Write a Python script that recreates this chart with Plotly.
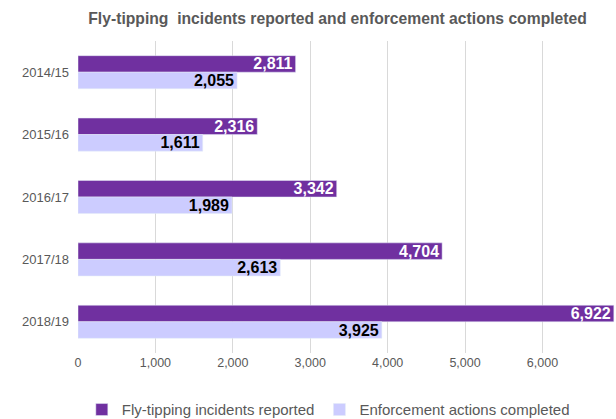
import plotly.graph_objects as go

years = ["2014/15", "2015/16", "2016/17", "2017/18", "2018/19"]
incidents = [2811, 2316, 3342, 4704, 6922]
enforcement = [2055, 1611, 1989, 2613, 3925]
tick_vals = [0, 1000, 2000, 3000, 4000, 5000, 6000]
tick_text = ["0", "1,000", "2,000", "3,000", "4,000", "5,000", "6,000"]

fig = go.Figure()
fig.add_trace(go.Bar(
    y=years, x=incidents, orientation="h", name="Fly-tipping incidents reported",
    marker=dict(color="#7030A0"),
    text=[f"{v:,}" for v in incidents], textposition="inside", insidetextanchor="end",
    constraintext="none",
    textfont=dict(color="white", size=16, family="Liberation Sans, Arial", weight="bold"),
))
fig.add_trace(go.Bar(
    y=years, x=enforcement, orientation="h", name="Enforcement actions completed",
    marker=dict(color="#CCCCFF"),
    text=[f"{v:,}" for v in enforcement], textposition="inside", insidetextanchor="end",
    constraintext="none",
    textfont=dict(color="black", size=16, family="Liberation Sans, Arial", weight="bold"),
))
fig.update_layout(
    width=616, height=419,
    margin=dict(l=78, r=0, t=41, b=66, autoexpand=False),
    paper_bgcolor="white", plot_bgcolor="white",
    barmode="group", bargap=0.47, bargroupgap=0,
    font=dict(family="Liberation Sans, Arial", color="#595959", size=12),
    title=dict(text="<b>Fly-tipping  incidents reported and enforcement actions completed</b>",
               x=0.548, xanchor="center", xref="container",
               y=0.957, yanchor="middle", yref="container",
               font=dict(size=15.7, color="#595959")),
    xaxis=dict(range=[0, 6950], tickvals=tick_vals, ticktext=tick_text,
               showgrid=True, gridcolor="#D9D9D9", gridwidth=1, zeroline=False,
               showline=False, ticks="", tickfont=dict(size=12.5, color="#595959")),
    yaxis=dict(autorange="reversed", showgrid=False, showline=False, ticks="",
               ticklabelstandoff=8, tickfont=dict(size=13, color="#595959")),
    legend=dict(orientation="h", x=0.533, xanchor="center", xref="container",
                y=0.022, yanchor="middle", yref="container",
                font=dict(size=15, color="#595959"), itemwidth=30,
                traceorder="normal"),
    showlegend=True,
)
fig.write_html("out.html", config={"displayModeBar": False},
               post_script="document.body.style.margin='0';document.body.style.overflow='hidden';")
